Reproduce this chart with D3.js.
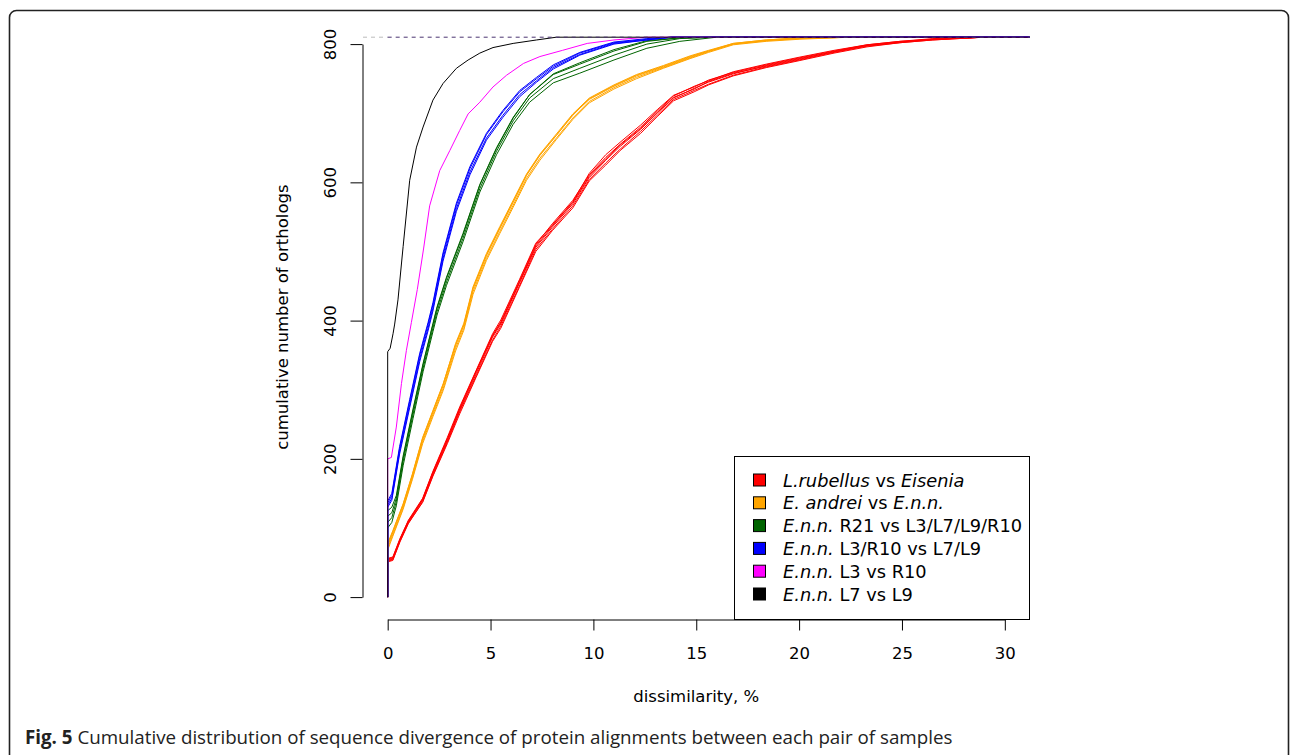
<!DOCTYPE html>
<html>
  <head>
    <meta charset="utf-8" />
    <script src="https://d3js.org/d3.v7.min.js"></script>
    <title>Cumulative distribution of sequence divergence</title>
    <style>
      body {
        margin: 0;
        background-color: white;
      }
      #canvas {
        display: block;
      }
      .tick text,
      .lab {
        font-family: "DejaVu Sans";
        font-size: 16.5px;
        fill: #000;
      }
      .leg {
        font-family: "DejaVu Sans";
        font-size: 17.8px;
        fill: #000;
      }
      .caption {
        font-family: "Open Sans";
        font-size: 18.75px;
        fill: #222;
      }
    </style>
  </head>
  <body>
    <svg id="canvas" width="1290" height="755"></svg>

    <script>
      // dissimilarity (%) and cumulative counts
      const rubellusX = [0, 0, 0.25, 0.6, 1, 1.7, 2.2, 2.9, 3.5, 4.3, 5.1, 5.5, 6.4, 7.2, 8, 9, 9.8, 10.6, 11.3, 12.3, 13.1, 13.9, 14.9, 15.6, 16.8, 18.4, 20, 21.7, 23.3, 24.9, 26.5, 29, 31.2];
      const rubellusY = [
        [0, 51, 53, 80, 106, 138, 176, 224, 268, 320, 372, 392, 450, 503, 532, 566, 604, 628, 648, 674, 697, 720, 733, 742, 755, 767, 777, 788, 797, 802, 806, 810, 810],
        [0, 53, 55, 83, 109, 141, 180, 229, 272, 326, 379, 398, 457, 510, 540, 574, 611, 636, 655, 680, 703, 725, 739, 747, 760, 771, 781, 791, 799, 804, 807, 810, 810],
        [0, 55, 57, 84, 111, 143, 182, 231, 275, 328, 381, 401, 459, 512, 538, 572, 613, 640, 658, 683, 705, 726, 738, 748, 759, 770, 780, 790, 799, 804, 808, 810, 810],
        [0, 52, 54, 81, 107, 137, 175, 222, 265, 318, 370, 389, 448, 500, 530, 563, 602, 625, 646, 671, 695, 718, 731, 741, 754, 766, 776, 787, 796, 802, 806, 810, 810],
        [0, 54, 56, 82, 108, 140, 178, 226, 270, 323, 376, 395, 454, 506, 535, 569, 607, 632, 652, 677, 700, 722, 736, 745, 757, 769, 779, 789, 798, 803, 807, 810, 810],
        [0, 56, 58, 85, 110, 142, 181, 228, 273, 327, 378, 397, 455, 508, 537, 571, 609, 634, 654, 678, 701, 723, 735, 746, 758, 768, 778, 789, 798, 803, 807, 810, 810],
      ];

      const andreiX = [0, 0, 0.25, 0.75, 1.2, 1.7, 2.2, 2.7, 3.3, 3.7, 4.15, 4.8, 5.45, 6.1, 6.75, 7.4, 8.2, 9, 9.8, 11, 12.1, 13.4, 14.7, 15.6, 16.8, 18.4, 20, 22.5, 31.2];
      const andreiY = [
        [0, 68, 88, 127, 170, 222, 261, 299, 356, 386, 438, 487, 526, 564, 603, 632, 662, 691, 715, 735, 750, 765, 779, 788, 799, 804, 807, 810, 810],
        [0, 71, 90, 129, 172, 225, 264, 302, 360, 389, 442, 490, 529, 567, 606, 635, 664, 693, 717, 737, 752, 766, 780, 789, 800, 805, 808, 810, 810],
        [0, 74, 93, 132, 175, 228, 267, 306, 364, 393, 446, 494, 533, 571, 610, 639, 668, 697, 721, 740, 755, 768, 782, 790, 801, 806, 809, 810, 810],
        [0, 76, 95, 134, 177, 230, 269, 308, 367, 396, 449, 497, 536, 574, 612, 641, 670, 699, 722, 741, 756, 769, 783, 791, 801, 806, 809, 810, 810],
        [0, 78, 96, 135, 178, 231, 270, 309, 365, 394, 447, 495, 534, 572, 611, 640, 668, 698, 720, 739, 754, 767, 781, 790, 800, 805, 808, 810, 810],
      ];

      const r21X = [0, 0, 0.2, 0.42, 0.75, 1.23, 1.72, 2.2, 2.4, 2.86, 3.66, 4.48, 5.29, 6.1, 6.9, 8.05, 9.34, 11, 12.6, 14.2, 16, 31.2];
      const r21Y = [
        [0, 100, 108, 132, 190, 258, 326, 384, 408, 451, 514, 586, 640, 684, 716, 744, 758, 777, 794, 804, 810, 810],
        [0, 108, 115, 138, 196, 264, 331, 389, 413, 456, 519, 591, 645, 689, 722, 750, 765, 784, 800, 808, 810, 810],
        [0, 117, 122, 143, 201, 269, 336, 394, 418, 461, 524, 596, 649, 693, 727, 756, 771, 790, 804, 809, 810, 810],
        [0, 125, 130, 147, 204, 272, 338, 396, 420, 463, 526, 597, 650, 694, 727, 757, 773, 792, 805, 809, 810, 810],
      ];

      const l3r10X = [0, 0, 0.2, 0.58, 1.07, 1.56, 1.96, 2.2, 2.69, 3.34, 4, 4.8, 5.6, 6.42, 7.24, 8.05, 9.34, 11, 12.6, 13.8, 31.2];
      const l3r10Y = [
        [0, 130, 140, 207, 274, 341, 385, 414, 486, 558, 611, 661, 694, 724, 745, 764, 784, 800, 806, 810, 810],
        [0, 133, 143, 211, 278, 345, 389, 418, 490, 562, 615, 664, 697, 727, 747, 766, 785, 801, 806, 810, 810],
        [0, 136, 147, 215, 283, 350, 394, 423, 495, 567, 620, 669, 702, 731, 750, 768, 787, 802, 807, 810, 810],
        [0, 139, 150, 218, 286, 353, 397, 426, 498, 570, 623, 671, 704, 733, 752, 770, 788, 803, 808, 810, 810],
      ];

      const l3vsR10X = [0, 0, 0.18, 0.42, 0.67, 0.91, 1.15, 1.44, 1.75, 2.04, 2.53, 3.02, 3.5, 3.91, 4.48, 5.12, 5.78, 6.6, 7.4, 8.5, 9.7, 11, 12.6, 31.2];
      const l3vsR10Y = [
        [0, 200, 202, 246, 309, 357, 397, 445, 505, 566, 617, 646, 675, 699, 716, 738, 755, 772, 782, 791, 801, 806, 810, 810],
      ];

      const l7vsL9X = [0, 0, 0.12, 0.26, 0.34, 0.5, 0.75, 1.07, 1.4, 1.72, 2.2, 2.69, 3.34, 3.91, 4.48, 5.12, 6.1, 7.24, 8.2, 31.2];
      const l7vsL9Y = [
        [0, 355, 360, 381, 395, 430, 507, 603, 651, 680, 719, 743, 765, 777, 787, 795, 801, 806, 810, 810],
      ];

      const totalOrthologs = 810;
      const xTicks = [0, 5, 10, 15, 20, 25, 30];
      const yTicks = [0, 200, 400, 600, 800];

      const groupColors = ["#ff0000", "#ffa500", "#006400", "#0000ff", "#ff00ff", "#000000"];
      // legend labels: [text, italic?]
      const legendLabels = [
        [["L.rubellus", true], [" vs ", false], ["Eisenia", true]],
        [["E. andrei", true], [" vs ", false], ["E.n.n.", true]],
        [["E.n.n.", true], [" R21 vs L3/L7/L9/R10", false]],
        [["E.n.n.", true], [" L3/R10 vs L7/L9", false]],
        [["E.n.n.", true], [" L3 vs R10", false]],
        [["E.n.n.", true], [" L7 vs L9", false]],
      ];

      const groups = [
        { x: rubellusX, ys: rubellusY },
        { x: andreiX, ys: andreiY },
        { x: r21X, ys: r21Y },
        { x: l3r10X, ys: l3r10Y },
        { x: l3vsR10X, ys: l3vsR10Y },
        { x: l7vsL9X, ys: l7vsL9Y },
      ];

      let svg = d3.select("#canvas");

      // journal frame
      svg
        .append("rect")
        .attr("x", 9.5)
        .attr("y", 10.5)
        .attr("width", 1279)
        .attr("height", 770)
        .attr("rx", 7)
        .style("fill", "none")
        .style("stroke", "#222")
        .style("stroke-width", 1.6);

      // plot region: R style 4% padding around [0,30] x [0,810]
      let xScale = d3.scaleLinear().domain([-1.2, 31.2]).range([363, 1029.5]);
      let yScale = d3.scaleLinear().domain([-32.4, 842.4]).range([619.5, 14.8]);

      let xAxisScale = d3
        .scaleLinear()
        .domain([0, 30])
        .range([xScale(0), xScale(30)]);
      let xAxis = d3
        .axisBottom(xAxisScale)
        .tickValues(xTicks)
        .tickSize(11)
        .tickSizeOuter(0);
      let xg = svg
        .append("g")
        .attr("transform", "translate(0,619.5)")
        .call(xAxis);
      xg.selectAll("text").attr("y", 39).attr("dy", null);

      let yAxisScale = d3
        .scaleLinear()
        .domain([0, 800])
        .range([yScale(0), yScale(800)]);
      let yAxis = d3
        .axisLeft(yAxisScale)
        .tickValues(yTicks)
        .tickSize(12)
        .tickSizeOuter(0);
      let yg = svg
        .append("g")
        .attr("transform", "translate(362.5,0)")
        .call(yAxis);
      yg.selectAll("text")
        .attr("x", null)
        .attr("dy", null)
        .attr("text-anchor", "middle")
        .attr("transform", "translate(-26.5,0) rotate(-90)");

      svg.selectAll(".domain, .tick line").style("stroke", "#000").style("stroke-width", 1);

      svg
        .append("text")
        .attr("class", "lab")
        .attr("x", xScale(15))
        .attr("y", 702)
        .attr("text-anchor", "middle")
        .text("dissimilarity, %");

      svg
        .append("text")
        .attr("class", "lab")
        .attr("text-anchor", "middle")
        .attr("transform", "translate(288," + yScale(405) + ") rotate(-90)")
        .text("cumulative number of orthologs");

      let lineGenerator = d3
        .line()
        .x((d) => xScale(d[0]))
        .y((d) => yScale(d[1]));

      // curves, first group at the bottom
      groups.forEach(function (g, gi) {
        g.ys.forEach(function (ys) {
          svg
            .append("path")
            .datum(g.x.map((xv, i) => [xv, ys[i]]))
            .attr("d", lineGenerator)
            .style("fill", "none")
            .style("stroke", groupColors[gi])
            .style("stroke-width", 1);
        });
      });

      // total number of orthologs
      svg
        .append("line")
        .attr("x1", xScale(-1.2))
        .attr("x2", xScale(0))
        .attr("y1", yScale(totalOrthologs))
        .attr("y2", yScale(totalOrthologs))
        .style("stroke", "#bbb")
        .style("stroke-dasharray", "4,4");
      svg
        .append("line")
        .attr("x1", xScale(0))
        .attr("x2", xScale(31.2))
        .attr("y1", yScale(totalOrthologs))
        .attr("y2", yScale(totalOrthologs))
        .style("stroke", "#4a3470")
        .style("stroke-dasharray", "4,4");

      // legend, bottom right
      let legend = svg.append("g");
      legend
        .append("rect")
        .attr("x", 734.5)
        .attr("y", 456.5)
        .attr("width", 295)
        .attr("height", 163)
        .style("fill", "white")
        .style("stroke", "#000")
        .style("stroke-width", 1);

      legendLabels.forEach(function (parts, i) {
        let cy = 480 + i * 22.8;
        legend
          .append("rect")
          .attr("x", 753.5)
          .attr("y", cy - 6)
          .attr("width", 12)
          .attr("height", 12)
          .style("fill", groupColors[i])
          .style("stroke", "#000")
          .style("stroke-width", 1);
        let t = legend
          .append("text")
          .attr("class", "leg")
          .attr("x", 783)
          .attr("y", cy + 6.5);
        parts.forEach(function (p) {
          t.append("tspan")
            .attr("font-style", p[1] ? "italic" : "normal")
            .text(p[0]);
        });
      });

      // caption
      let cap = svg
        .append("text")
        .attr("class", "caption")
        .attr("x", 25)
        .attr("y", 744);
      cap.append("tspan").attr("font-weight", "bold").text("Fig. 5");
      cap
        .append("tspan")
        .text(" Cumulative distribution of sequence divergence of protein alignments between each pair of samples");
    </script>
  </body>
</html>
